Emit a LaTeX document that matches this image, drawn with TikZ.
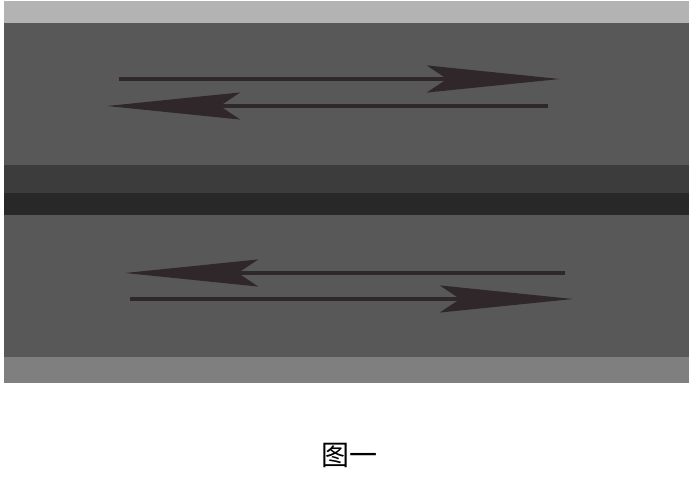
\documentclass[tikz,border=0pt]{standalone}
\usepackage{fontspec}
\usepackage{tikz}
\usetikzlibrary{arrows.meta}
\newfontfamily\cjk{Noto Sans CJK SC}
\definecolor{verge}{HTML}{B3B3B3}
\definecolor{lane}{HTML}{595859}
\definecolor{median}{HTML}{3D3C3D}
\definecolor{mediandark}{HTML}{292829}
\definecolor{kerb}{HTML}{7F7F7F}
\definecolor{arrowcol}{HTML}{2F272A}
\begin{document}
\begin{tikzpicture}[x=1pt,y=-1pt]
			\tikzstyle{lanearrow}=[draw=arrowcol,line width=3.5pt,-{Stealth[length=133pt,width=27pt,inset=20pt]}]
			\useasboundingbox (0,0) rectangle (693,478);
			\fill[white] (0,0) rectangle (693,478);
			% road bands
			\fill[verge] (4,1) rectangle (689,23);
			\fill[lane] (4,23) rectangle (689,165);
			\fill[median] (4,165) rectangle (689,193);
			\fill[mediandark] (4,193) rectangle (689,215);
			\fill[lane] (4,215) rectangle (689,357);
			\fill[kerb] (4,357) rectangle (689,383);
			% lane arrows
			\coordinate (A_1) at (119,79);
			\coordinate (B_1) at (560,79);
			\coordinate (A_2) at (548,106);
			\coordinate (B_2) at (107,106);
			\coordinate (A_3) at (565,273);
			\coordinate (B_3) at (125,273);
			\coordinate (A_4) at (130,299);
			\coordinate (B_4) at (573,299);
			\draw[lanearrow] (A_1) -- (B_1);
			\draw[lanearrow] (A_2) -- (B_2);
			\draw[lanearrow] (A_3) -- (B_3);
			\draw[lanearrow] (A_4) -- (B_4);
			\node[inner sep=0pt] (caption) at (349,455) {\cjk\fontsize{28}{30}\selectfont 图一};
			\end{tikzpicture}
\end{document}
